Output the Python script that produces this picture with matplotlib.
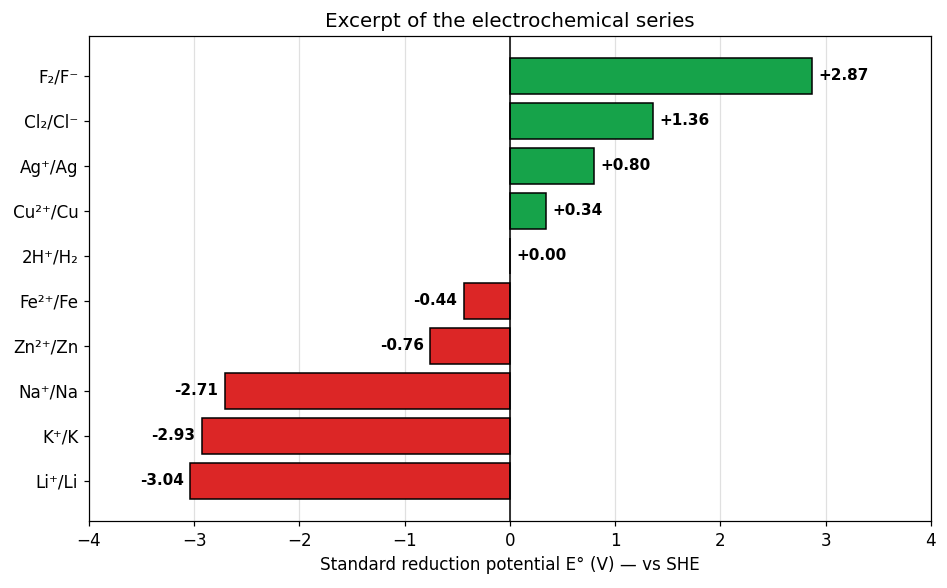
import matplotlib
matplotlib.use("Agg")
import matplotlib.pyplot as plt

# data, top to bottom as shown
couples = ["F₂/F⁻", "Cl₂/Cl⁻", "Ag⁺/Ag", "Cu²⁺/Cu", "2H⁺/H₂",
           "Fe²⁺/Fe", "Zn²⁺/Zn", "Na⁺/Na", "K⁺/K", "Li⁺/Li"]
potentials = [2.87, 1.36, 0.80, 0.34, 0.00, -0.44, -0.76, -2.71, -2.93, -3.04]

fig, ax = plt.subplots(figsize=(947 / 110, 588 / 110), dpi=110)

ypos = list(range(len(couples)))[::-1]
colors = ["#16a34a" if v >= 0 else "#dc2626" for v in potentials]
ax.barh(ypos, potentials, color=colors, edgecolor="black", linewidth=1.0, height=0.8, zorder=3)

ax.axvline(0, color="black", linewidth=1.0, zorder=4)

for y, v in zip(ypos, potentials):
    if v >= 0:
        ax.text(v + 0.06, y, f"+{v:.2f}", va="center", ha="left", fontsize=10, fontweight="bold")
    else:
        ax.text(v - 0.06, y, f"{v:.2f}", va="center", ha="right", fontsize=10, fontweight="bold")

ax.set_yticks(ypos)
ax.set_yticklabels(couples, fontsize=11)
ax.set_xlim(-4, 4)
ax.tick_params(axis="x", labelsize=11)
ax.grid(axis="x", color="#e0e0e0", linewidth=0.8, zorder=0)
ax.set_axisbelow(True)
ax.set_xlabel("Standard reduction potential E° (V) — vs SHE", fontsize=11)
ax.set_title("Excerpt of the electrochemical series", fontsize=13)

plt.subplots_adjust(left=0.094, right=0.983, top=0.939, bottom=0.114)
plt.savefig("out.png")
